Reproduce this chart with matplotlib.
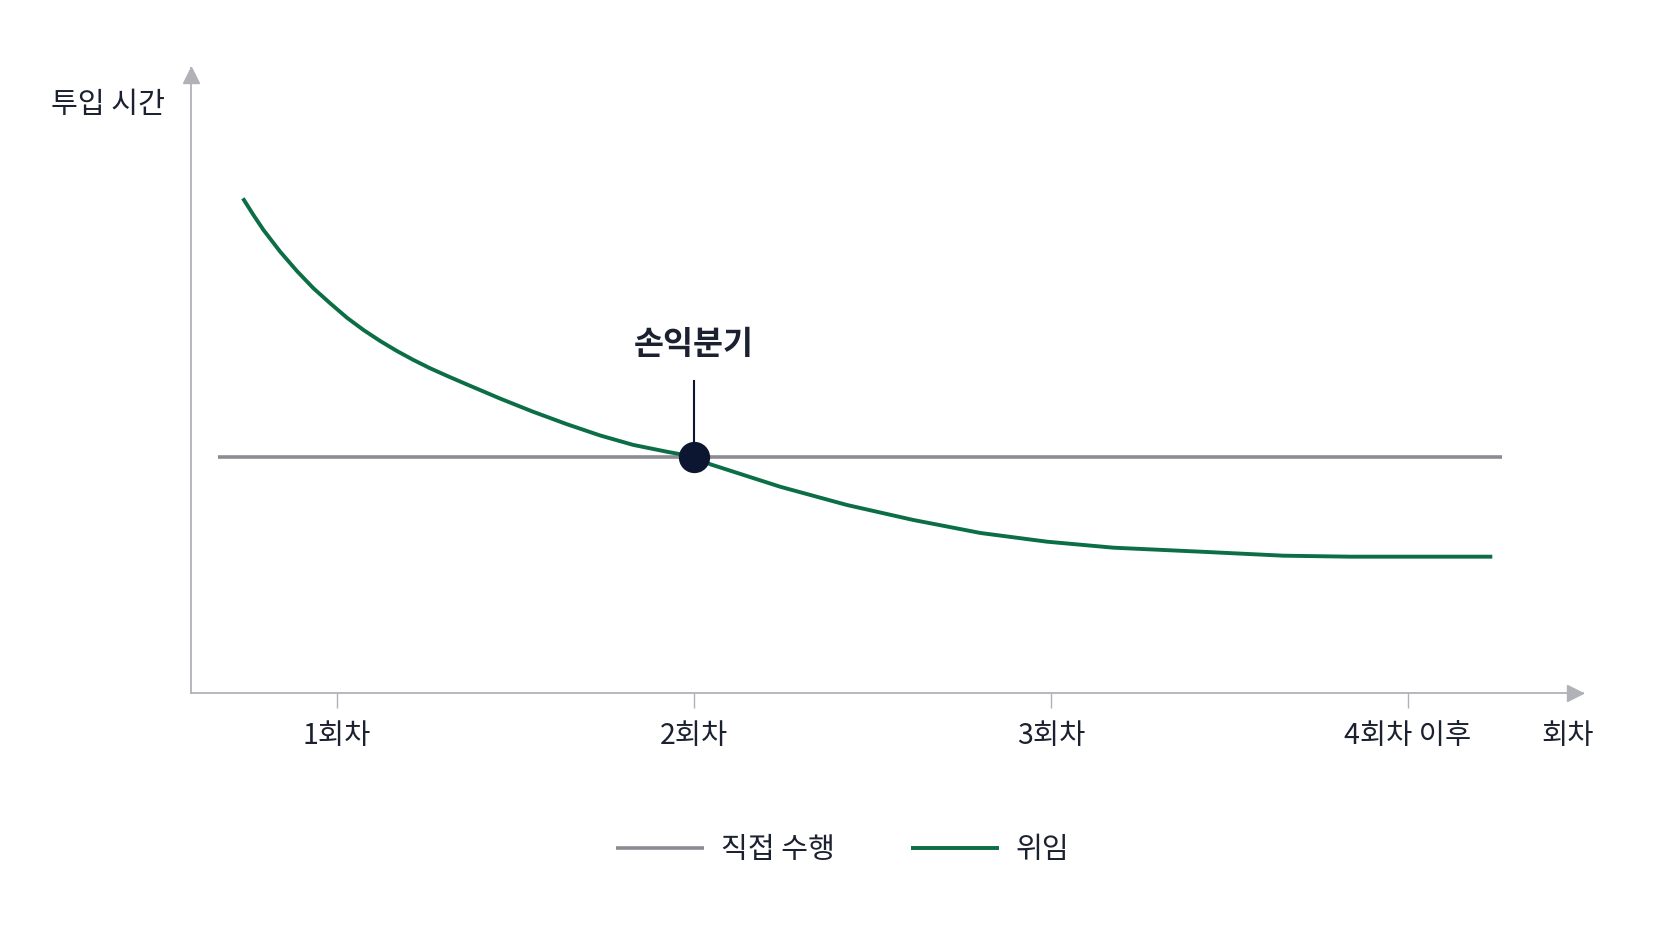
import matplotlib
matplotlib.use("Agg")
import matplotlib.pyplot as plt

plt.rcParams['font.family'] = ['Noto Sans CJK KR', 'DejaVu Sans']

# 회차 (x) 와 투입 시간 (임의 단위)
tick_pos = [1, 2, 3, 4]
tick_labels = ['1회차', '2회차', '3회차', '4회차 이후']

direct_x = [0.669, 4.262]
direct_y = [3.78, 3.78]

deleg_x = [0.7373, 0.7669, 0.795, 0.8417, 0.8885, 0.935, 0.9818, 1.0286, 1.0751, 1.1218,
           1.1686, 1.2151, 1.2619, 1.3087, 1.3552, 1.458, 1.550, 1.645, 1.738, 1.830,
           1.925, 2.0, 2.046, 2.242, 2.429, 2.615, 2.803, 2.989, 3.175, 3.419,
           3.651, 3.839, 4.236]
deleg_y = [7.915, 7.648, 7.408, 7.061, 6.752, 6.475, 6.235, 6.005, 5.808, 5.632,
           5.472, 5.328, 5.195, 5.075, 4.96, 4.71, 4.50, 4.30, 4.12, 3.97,
           3.86, 3.78, 3.66, 3.30, 3.008, 2.768, 2.56, 2.421, 2.325, 2.261,
           2.197, 2.181, 2.181]

breakeven = (2.0, 3.78)

GREEN = '#0b6e45'
GRAY = '#8b8c94'
AXIS = '#b0b2b8'
TEXT = '#1b2130'
DOT = '#0c1631'

W, H = 1672, 941
fig = plt.figure(figsize=(W / 100, H / 100), dpi=100)
fig.patch.set_facecolor('white')

# 축 영역: 픽셀 좌표 기준
left, right, top, bottom = 191, 1583, 68, 693
ax = fig.add_axes([left / W, 1 - bottom / H, (right - left) / W, (bottom - top) / H])
ax.set_xlim(0.592, 4.49)
ax.set_ylim(0, 10)

for s in ['top', 'right']:
    ax.spines[s].set_visible(False)
for s in ['left', 'bottom']:
    ax.spines[s].set_color(AXIS)
    ax.spines[s].set_linewidth(1.3)

# 축 화살표
ax.plot(0.9946, 0, marker='>', markersize=11, color=AXIS,
        transform=ax.transAxes, clip_on=False)
ax.plot(0, 0.9888, marker='^', markersize=11, color=AXIS,
        transform=ax.transAxes, clip_on=False)

ax.set_xticks(tick_pos)
ax.set_xticklabels(tick_labels, fontsize=20.5, color=TEXT)
ax.tick_params(axis='x', length=11, width=1, color=AXIS, pad=9)
ax.set_yticks([])

ax.plot(direct_x, direct_y, color=GRAY, linewidth=2.6, solid_capstyle='butt', label='직접 수행')
ax.plot(deleg_x, deleg_y, color=GREEN, linewidth=2.8, solid_capstyle='butt',
        solid_joinstyle='round', label='위임')

# 손익분기 표시
ax.plot([breakeven[0], breakeven[0]], [breakeven[1], 5.0], color=DOT, linewidth=1.5, zorder=4)
ax.plot(breakeven[0], breakeven[1], 'o', markersize=21.5, color=DOT, zorder=5)
ax.text(breakeven[0], 5.58, '손익분기', ha='center', va='center', fontsize=23.5,
        fontweight='bold', color=TEXT)

fig.text(108 / W, 1 - 105 / H, '투입 시간', ha='center', va='center', fontsize=21, color=TEXT)
fig.text(1568 / W, 1 - 736 / H, '회차', ha='center', va='center', fontsize=20.5, color=TEXT)

fig.legend(loc='center', bbox_to_anchor=(843 / W, 1 - 850 / H), ncol=2, frameon=False,
           fontsize=21, handlelength=3.0, handletextpad=0.6, columnspacing=2.6,
           labelcolor=TEXT)

fig.savefig('out.png', dpi=100, facecolor='white')
